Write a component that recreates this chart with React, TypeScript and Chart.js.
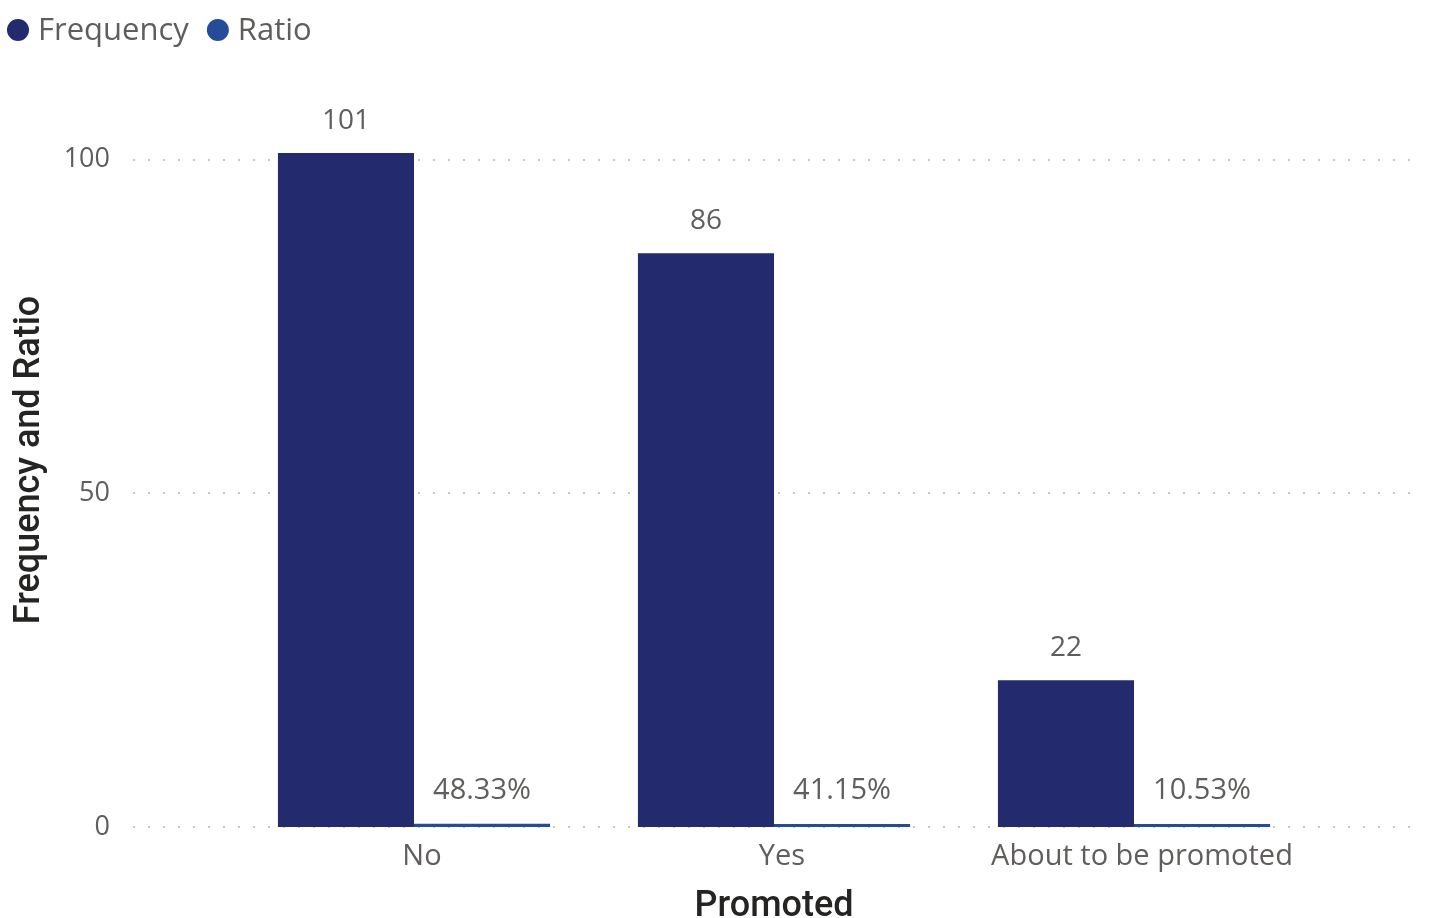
import React, { useEffect, useRef } from "react";
import { Chart, registerables } from "chart.js";

Chart.register(...registerables);

const categories = ["No", "Yes", "About to be promoted"];
const frequency = [101, 86, 22];
const ratio = [0.4833, 0.4115, 0.1053];
const yTicks = [0, 50, 100];

const FONT = "'Open Sans', 'Noto Sans', sans-serif";
const TITLE_FONT = "Roboto, 'Noto Sans', sans-serif";
const TEXT_GREY = "#605E5C";
const FREQ_COLOR = "#232A6E";
const RATIO_COLOR = "#244C98";

const extendedGrid = {
  id: "extendedGrid",
  beforeDatasetsDraw(chart: any) {
    const y = chart.scales.y;
    const area = chart.chartArea;
    const ctx = chart.ctx;
    ctx.save();
    ctx.strokeStyle = "#C8C6C4";
    ctx.lineWidth = 2;
    ctx.setLineDash([2, 13]);
    for (const v of yTicks) {
      const py = Math.round(y.getPixelForValue(v));
      ctx.beginPath();
      ctx.moveTo(area.left - 101, py);
      ctx.lineTo(area.right + 108, py);
      ctx.stroke();
    }
    ctx.restore();
  },
};

const valueLabels = {
  id: "valueLabels",
  afterDatasetsDraw(chart: any) {
    const ctx = chart.ctx;
    ctx.save();
    ctx.fillStyle = TEXT_GREY;
    ctx.textAlign = "center";
    ctx.textBaseline = "middle";
    chart.data.datasets.forEach((ds: any, i: number) => {
      const meta = chart.getDatasetMeta(i);
      meta.data.forEach((el: any, j: number) => {
        const v = ds.data[j];
        if (i === 0) {
          ctx.font = `28px ${FONT}`;
          ctx.fillText(String(v), el.x, el.y - 32);
        } else {
          ctx.font = `29px ${FONT}`;
          ctx.fillText((v * 100).toFixed(2) + "%", el.x, el.y - 33);
        }
      });
    });
    ctx.restore();
  },
};

const topLegend = {
  id: "topLegend",
  afterDraw(chart: any) {
    const ctx = chart.ctx;
    ctx.save();
    ctx.font = `31px ${FONT}`;
    ctx.textBaseline = "middle";
    ctx.textAlign = "left";
    let x = 7;
    const cy = 30;
    chart.data.datasets.forEach((ds: any) => {
      ctx.fillStyle = ds.backgroundColor;
      ctx.beginPath();
      ctx.arc(x + 11, cy, 11, 0, Math.PI * 2);
      ctx.fill();
      ctx.fillStyle = TEXT_GREY;
      ctx.fillText(ds.label, x + 31, cy + 1);
      x += 31 + ctx.measureText(ds.label).width + 18;
    });
    ctx.restore();
  },
};

export default function App() {
  const canvasRef = useRef<HTMLCanvasElement | null>(null);

  useEffect(() => {
    if (!canvasRef.current) return;
    const chart = new Chart(canvasRef.current, {
      type: "bar",
      data: {
        labels: categories,
        datasets: [
          {
            label: "Frequency",
            data: frequency,
            backgroundColor: FREQ_COLOR,
            categoryPercentage: 0.756,
            barPercentage: 1,
          },
          {
            label: "Ratio",
            data: ratio,
            backgroundColor: RATIO_COLOR,
            categoryPercentage: 0.756,
            barPercentage: 1,
            minBarLength: 3,
          },
        ],
      },
      options: {
        responsive: false,
        animation: false,
        layout: { padding: { left: 0, right: 117, top: 93, bottom: 0 } },
        plugins: {
          legend: { display: false },
          tooltip: { enabled: false },
        },
        scales: {
          x: {
            grid: { display: false },
            border: { display: false },
            ticks: {
              color: TEXT_GREY,
              font: { family: FONT, size: 29 },
              padding: 4,
              labelOffset: 8,
              maxRotation: 0,
            },
            title: {
              display: true,
              text: "Promoted",
              color: "#252423",
              font: { family: TITLE_FONT, size: 36, weight: 500, lineHeight: 0.6 },
              padding: { top: 0, bottom: 0 },
            },
            afterFit(scale: any) {
              scale.height = 91;
            },
          },
          y: {
            min: 0,
            max: 110,
            grid: { display: false },
            border: { display: false },
            afterBuildTicks(scale: any) {
              scale.ticks = yTicks.map((v) => ({ value: v }));
            },
            ticks: {
              color: TEXT_GREY,
              font: { family: FONT, size: 27 },
              padding: 116,
            },
            title: {
              display: true,
              text: "Frequency and Ratio",
              color: "#252423",
              font: { family: TITLE_FONT, size: 36, weight: 500, lineHeight: 1 },
              padding: { top: 12, bottom: 0 },
            },
            afterFit(scale: any) {
              scale.width = 234;
              scale.paddingTop = 0;
              scale.paddingBottom = 0;
            },
          },
        },
      },
      plugins: [extendedGrid, valueLabels, topLegend],
    });
    return () => chart.destroy();
  }, []);

  return (
    <div style={{ position: "fixed", left: 0, top: 0, width: 1431, height: 918, background: "#fff" }}>
      <canvas ref={canvasRef} width={1431} height={918} style={{ display: "block" }} />
    </div>
  );
}
